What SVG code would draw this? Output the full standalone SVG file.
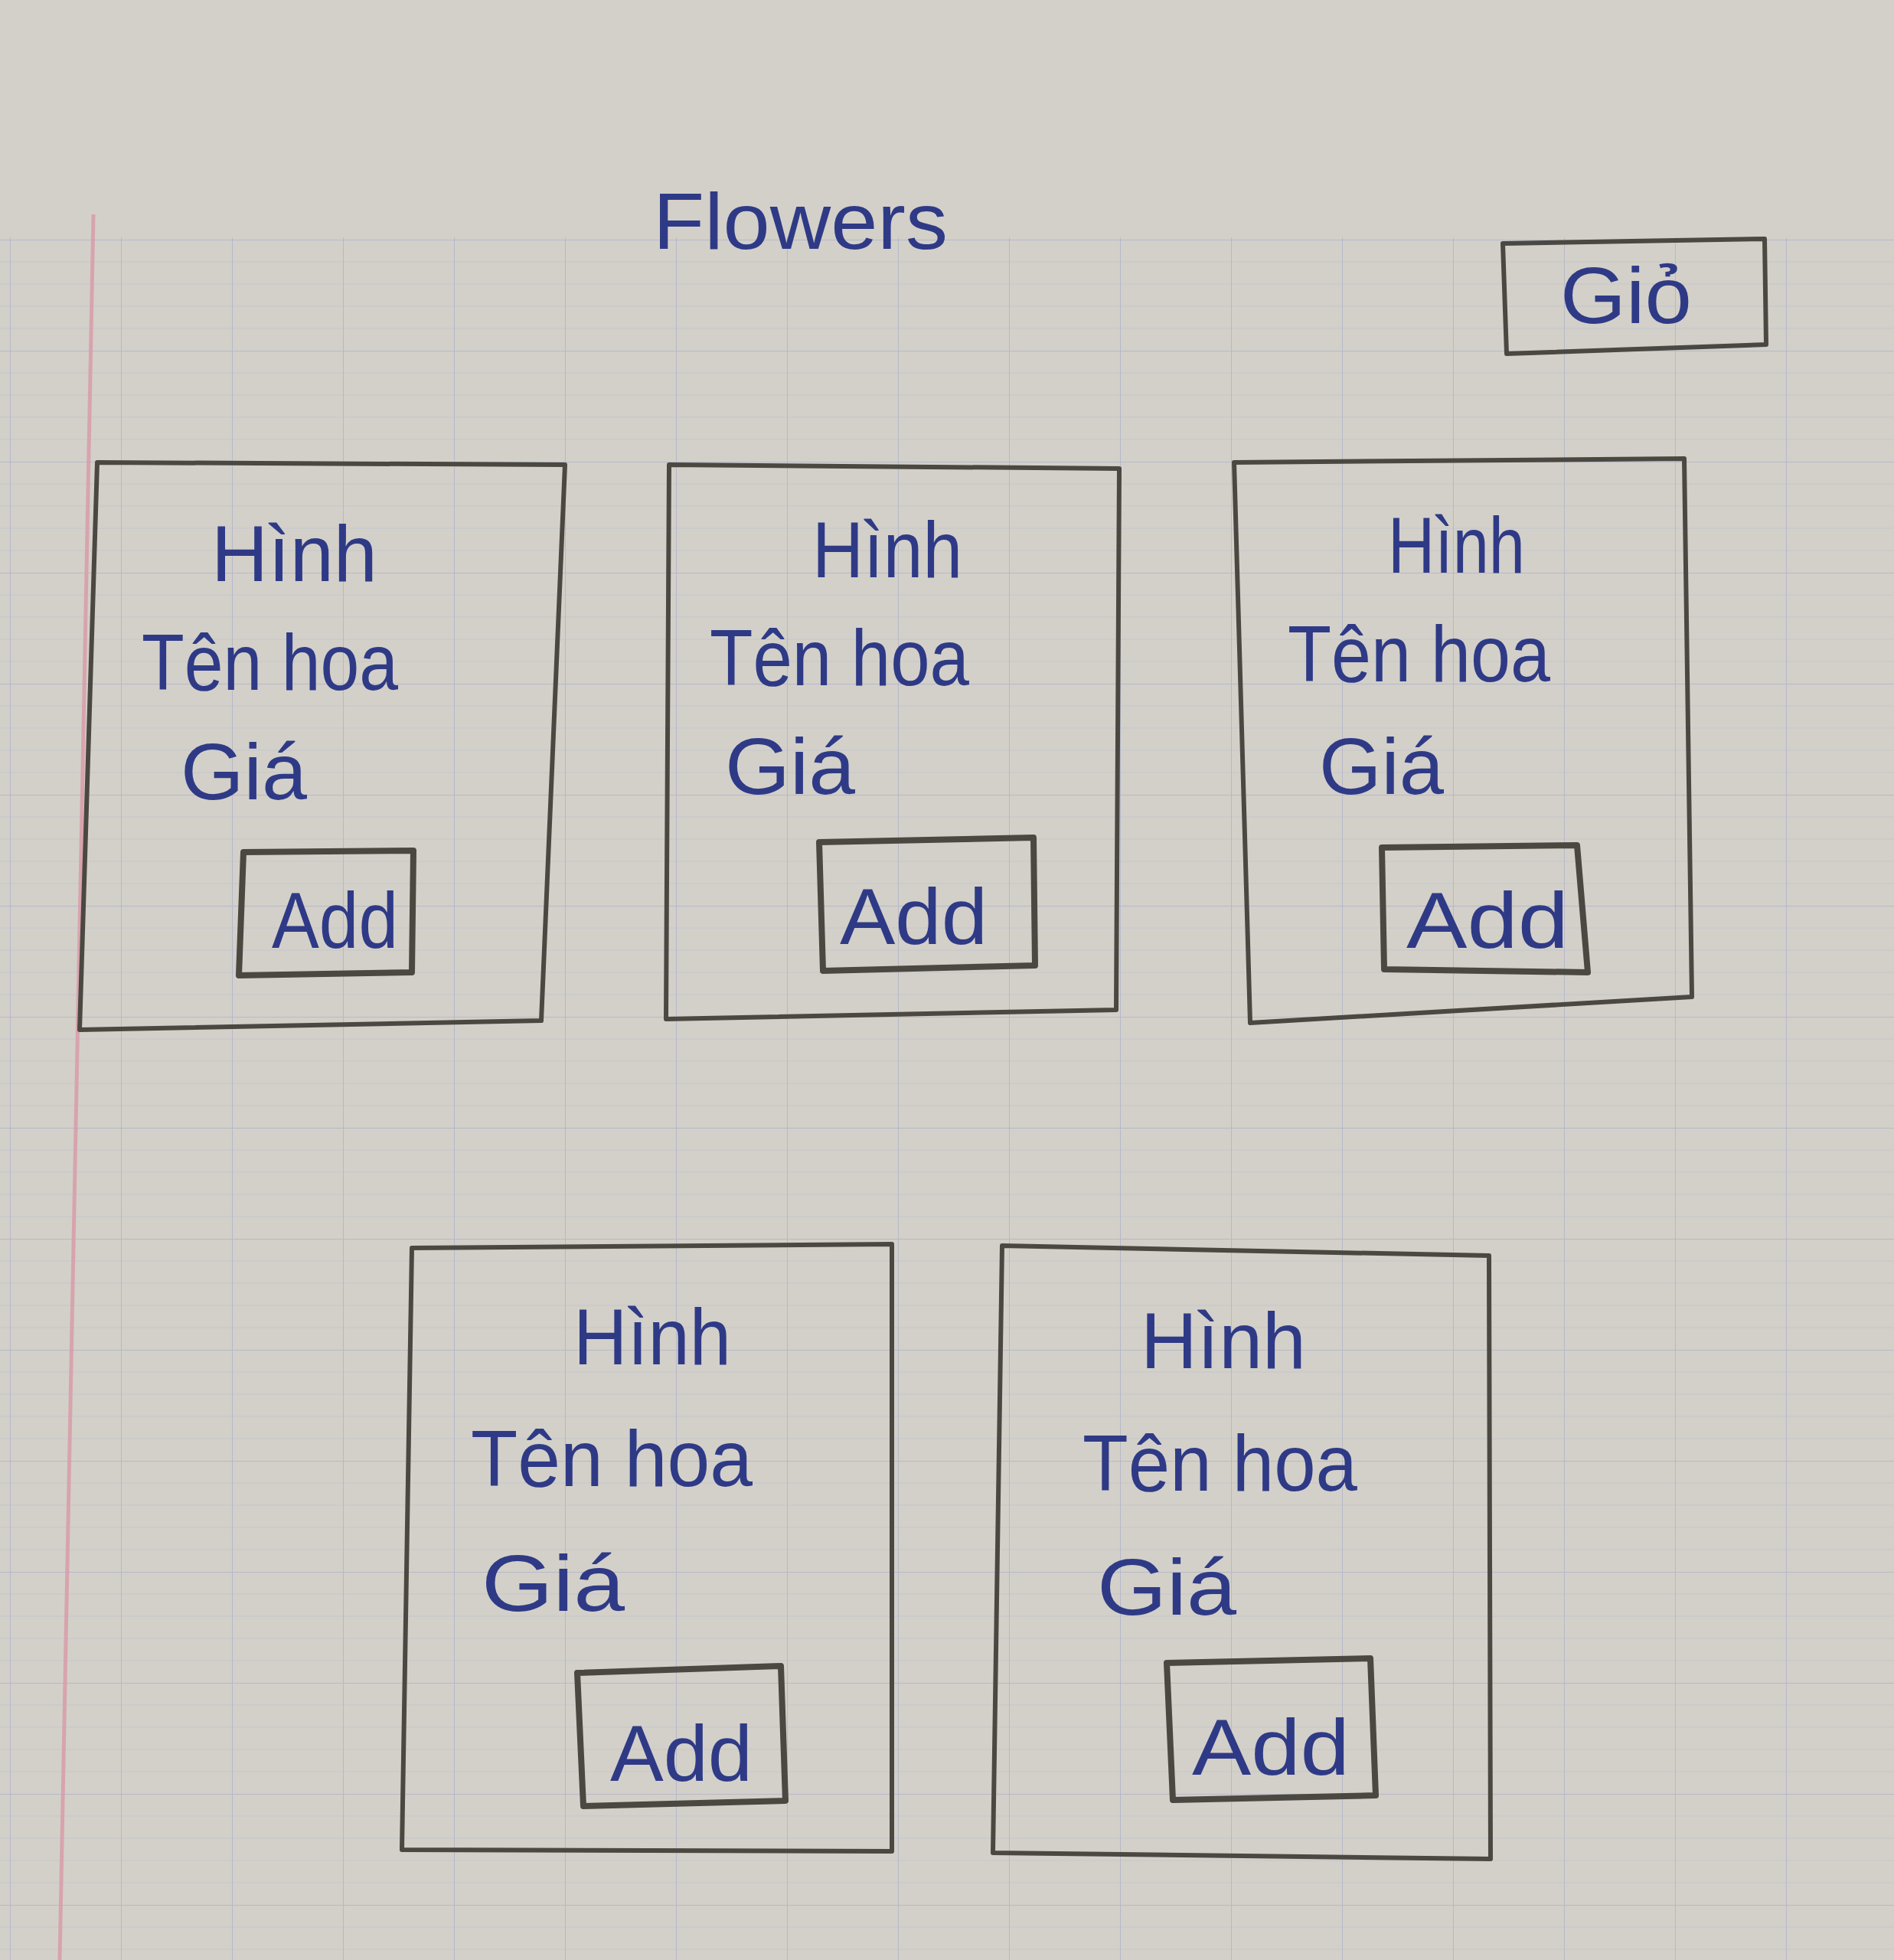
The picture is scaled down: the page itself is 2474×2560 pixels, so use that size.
<svg xmlns="http://www.w3.org/2000/svg" width="2474" height="2560" viewBox="0 0 2474 2560">
<defs>
<style>
.box{fill:none;stroke:#4a4840;stroke-width:6;stroke-linejoin:round}
.btn{fill:none;stroke:#4a4840;stroke-width:8;stroke-linejoin:round}
.t{font-family:"Liberation Sans","DejaVu Sans",sans-serif;fill:#2f3a86;font-size:104px}
.grid{stroke:#a9aecb;stroke-width:2;opacity:0.7}
</style>
<pattern id="g" x="13" y="23" width="145" height="145" patternUnits="userSpaceOnUse">
<path d="M0 0V145M0 0H145" class="grid"/>
<path d="M0 29H145M0 58H145M0 87H145M0 116H145" stroke="#b8bccf" stroke-width="1" opacity="0.5"/>
</pattern>
</defs>
<rect width="2474" height="2560" fill="#d3d0c9"/>
<rect x="0" y="310" width="2474" height="2250" fill="url(#g)"/>
<line x1="122" y1="280" x2="78" y2="2560" stroke="#d99aa8" stroke-width="5" opacity="0.8"/>

<g id="title">
<text class="t" x="853" y="325" font-size="120" textLength="385" lengthAdjust="spacingAndGlyphs">Flowers</text>
</g>

<g id="cart">
<polygon class="box" points="1963,318 2305,312 2307,450 1968,462"/>
<text class="t" x="2038" y="422" font-size="108" textLength="172" lengthAdjust="spacingAndGlyphs">Giỏ</text>
</g>

<g id="card1">
<polygon class="box" points="127,604 738,607 707,1333 104,1345"/>
<text class="t" x="276" y="759" textLength="217" lengthAdjust="spacingAndGlyphs">Hình</text>
<text class="t" x="185" y="901" textLength="335" lengthAdjust="spacingAndGlyphs">Tên hoa</text>
<text class="t" x="236" y="1044" textLength="165" lengthAdjust="spacingAndGlyphs">Giá</text>
<g id="add1">
<polygon class="btn" points="318,1113 540,1111 538,1270 312,1274"/>
<text class="t" x="355" y="1238" font-size="120" textLength="165" lengthAdjust="spacingAndGlyphs">Add</text>
</g>
</g>

<g id="card2">
<polygon class="box" points="874,607 1462,612 1458,1319 870,1331"/>
<text class="t" x="1061" y="754" textLength="196" lengthAdjust="spacingAndGlyphs">Hình</text>
<text class="t" x="927" y="895" textLength="339" lengthAdjust="spacingAndGlyphs">Tên hoa</text>
<text class="t" x="947" y="1037" textLength="170" lengthAdjust="spacingAndGlyphs">Giá</text>
<g id="add2">
<polygon class="btn" points="1070,1100 1350,1094 1352,1261 1075,1268"/>
<text class="t" x="1097" y="1233" font-size="120" textLength="193" lengthAdjust="spacingAndGlyphs">Add</text>
</g>
</g>

<g id="card3">
<polygon class="box" points="1612,604 2200,599 2210,1302 1633,1336"/>
<text class="t" x="1813" y="748" textLength="179" lengthAdjust="spacingAndGlyphs">Hình</text>
<text class="t" x="1682" y="890" textLength="343" lengthAdjust="spacingAndGlyphs">Tên hoa</text>
<text class="t" x="1723" y="1037" textLength="163" lengthAdjust="spacingAndGlyphs">Giá</text>
<g id="add3">
<polygon class="btn" points="1805,1107 2060,1104 2074,1270 1808,1266"/>
<text class="t" x="1837" y="1238" font-size="120" textLength="212" lengthAdjust="spacingAndGlyphs">Add</text>
</g>
</g>

<g id="card4">
<polygon class="box" points="538,1630 1165,1625 1165,2418 525,2416"/>
<text class="t" x="749" y="1782" textLength="206" lengthAdjust="spacingAndGlyphs">Hình</text>
<text class="t" x="615" y="1941" textLength="368" lengthAdjust="spacingAndGlyphs">Tên hoa</text>
<text class="t" x="629" y="2104" textLength="187" lengthAdjust="spacingAndGlyphs">Giá</text>
<g id="add4">
<polygon class="btn" points="754,2185 1020,2176 1026,2352 762,2359"/>
<text class="t" x="797" y="2326" font-size="120" textLength="186" lengthAdjust="spacingAndGlyphs">Add</text>
</g>
</g>

<g id="card5">
<polygon class="box" points="1309,1627 1945,1640 1947,2428 1297,2420"/>
<text class="t" x="1490" y="1787" textLength="216" lengthAdjust="spacingAndGlyphs">Hình</text>
<text class="t" x="1414" y="1947" textLength="359" lengthAdjust="spacingAndGlyphs">Tên hoa</text>
<text class="t" x="1433" y="2109" textLength="182" lengthAdjust="spacingAndGlyphs">Giá</text>
<g id="add5">
<polygon class="btn" points="1524,2172 1790,2166 1797,2345 1532,2351"/>
<text class="t" x="1557" y="2318" font-size="120" textLength="206" lengthAdjust="spacingAndGlyphs">Add</text>
</g>
</g>

<g id="connectors"/>
</svg>
